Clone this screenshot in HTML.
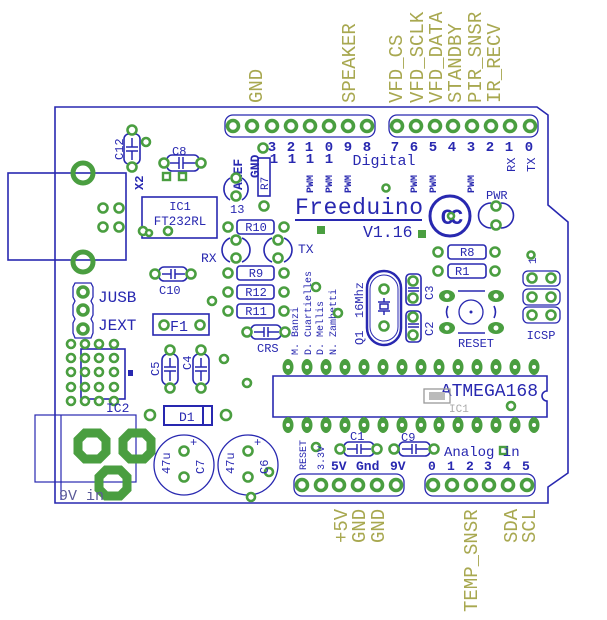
<!DOCTYPE html>
<html><head><meta charset="utf-8"><style>
html,body{margin:0;padding:0;background:#fff;width:607px;height:620px;overflow:hidden}
svg{display:block}
.b{fill:#2828b0;font-family:"Liberation Mono",monospace}
.o{fill:#a8a850;font-family:"Liberation Mono",monospace;font-size:19px}
.bl{stroke:#2828b0;fill:none;stroke-width:1.6}
.p{fill:#fff;stroke:#4a9e40;stroke-width:2.6}
.hp{fill:#fff;stroke:#4a9e40;stroke-width:3.6}
.ho{fill:none;stroke:#2828b0;stroke-width:1.3}
</style></head><body>
<svg width="607" height="620" viewBox="0 0 607 620" xmlns="http://www.w3.org/2000/svg">
<path class="bl" d="M55 107 H537 L548 115 V205 L568 222 V473 L548 487 V503 H55 Z" stroke-width="2"/>

<g class="o">
<text transform="translate(262,103) rotate(-90)">GND</text>
<text transform="translate(355,103) rotate(-90)">SPEAKER</text>
<text transform="translate(402,103) rotate(-90)">VFD_CS</text>
<text transform="translate(423,103) rotate(-90)">VFD_SCLK</text>
<text transform="translate(442,103) rotate(-90)">VFD_DATA</text>
<text transform="translate(461,103) rotate(-90)">STANDBY</text>
<text transform="translate(481,103) rotate(-90)">PIR_SNSR</text>
<text transform="translate(500,103) rotate(-90)">IR_RECV</text>
<text transform="translate(347,543) rotate(-90)">+5V</text>
<text transform="translate(365,543) rotate(-90)">GND</text>
<text transform="translate(384,543) rotate(-90)">GND</text>
<text transform="translate(477,612) rotate(-90)">TEMP_SNSR</text>
<text transform="translate(517,543) rotate(-90)">SDA</text>
<text transform="translate(535,543) rotate(-90)">SCL</text>
</g>

<g>
<rect class="ho" x="225" y="115" width="150" height="22" rx="8"/>
<rect class="ho" x="389" y="115" width="149" height="22" rx="8"/>
<circle class="hp" cx="233" cy="126" r="5.5"/><circle class="hp" cx="252" cy="126" r="5.5"/>
<circle class="hp" cx="272" cy="126" r="5.5"/><circle class="hp" cx="291" cy="126" r="5.5"/>
<circle class="hp" cx="310" cy="126" r="5.5"/><circle class="hp" cx="329" cy="126" r="5.5"/>
<circle class="hp" cx="348" cy="126" r="5.5"/><circle class="hp" cx="367" cy="126" r="5.5"/>
<circle class="hp" cx="397" cy="126" r="5.5"/><circle class="hp" cx="416" cy="126" r="5.5"/>
<circle class="hp" cx="435" cy="126" r="5.5"/><circle class="hp" cx="453" cy="126" r="5.5"/>
<circle class="hp" cx="472" cy="126" r="5.5"/><circle class="hp" cx="491" cy="126" r="5.5"/>
<circle class="hp" cx="510" cy="126" r="5.5"/><circle class="hp" cx="530" cy="126" r="5.5"/>
</g>
<g class="b" font-size="14" font-weight="bold" text-anchor="middle">
<text x="272" y="151">3</text><text x="291" y="151">2</text><text x="309" y="151">1</text><text x="329" y="151">0</text>
<text x="348" y="151">9</text><text x="367" y="151">8</text>
<text x="395" y="151">7</text><text x="414" y="151">6</text><text x="433" y="151">5</text><text x="452" y="151">4</text>
<text x="471" y="151">3</text><text x="490" y="151">2</text><text x="509" y="151">1</text><text x="529" y="151">0</text>
<text x="274" y="163">1</text><text x="292" y="163">1</text><text x="310" y="163">1</text><text x="329" y="163">1</text>
<text x="384" y="165" font-weight="normal" font-size="15">Digital</text>
</g>
<g class="b" font-size="12">
<text transform="translate(515,172) rotate(-90)">RX</text>
<text transform="translate(535,172) rotate(-90)">TX</text>
<text transform="translate(242,190) rotate(-90)" font-weight="bold" font-size="13">AREF</text>
<text transform="translate(259,178) rotate(-90)" font-weight="bold" font-size="13">GND</text>
<g font-size="10" font-weight="bold">
<text transform="translate(313,193) rotate(-90)">PWM</text>
<text transform="translate(332,193) rotate(-90)">PWM</text>
<text transform="translate(351,193) rotate(-90)">PWM</text>
<text transform="translate(417,193) rotate(-90)">PWM</text>
<text transform="translate(436,193) rotate(-90)">PWM</text>
<text transform="translate(474,193) rotate(-90)">PWM</text>
</g>
</g>

<text class="b" x="295" y="214" font-size="23" textLength="128">Freeduino</text>
<line x1="295" y1="220" x2="422" y2="220" stroke="#2828b0" stroke-width="2"/>
<text class="b" x="363" y="237" font-size="16.5">V1.16</text>
<rect x="317" y="226" width="8" height="8" fill="#4a9e40"/><rect x="418" y="230" width="8" height="8" fill="#4a9e40"/>
<circle class="p" cx="386" cy="188" r="3.5"/>
<circle cx="450" cy="216" r="20" fill="none" stroke="#2828b0" stroke-width="3"/>
<text class="b" x="450" y="224" font-size="22" font-weight="bold" text-anchor="middle" letter-spacing="-4">CC</text>
<circle class="p" cx="451" cy="216" r="3"/>

<text class="b" x="486" y="199" font-size="12">PWR</text>
<path class="bl" d="M491 203 A12 12 0 0 0 491 228 M501 203 A12 12 0 0 1 501 228" stroke-width="2.4"/>
<circle class="p" cx="496" cy="206" r="4.5"/><circle class="p" cx="496" cy="225" r="4.5"/>

<rect class="bl" x="8" y="173" width="118" height="87"/>
<circle cx="83" cy="173" r="10" fill="none" stroke="#4a9e40" stroke-width="5"/>
<circle cx="83" cy="262" r="10" fill="none" stroke="#4a9e40" stroke-width="5"/>
<circle class="p" cx="103" cy="208" r="4.5"/><circle class="p" cx="119" cy="208" r="4.5"/>
<circle class="p" cx="103" cy="227" r="4.5"/><circle class="p" cx="119" cy="227" r="4.5"/>

<rect class="bl" x="124" y="134" width="16" height="30" rx="5" stroke-width="1.2"/>
<path d="M126 147 H138 M126 151 H138 M132 138 V147 M132 151 V160" stroke="#2828b0" stroke-width="1.5"/>
<circle class="p" cx="132" cy="130" r="4.5"/><circle class="p" cx="132" cy="167" r="4.5"/><circle class="p" cx="146" cy="142" r="4"/>
<text class="b" transform="translate(123,160) rotate(-90)" font-size="12">C12</text>
<text class="b" transform="translate(143,190) rotate(-90)" font-size="12" font-weight="bold">X2</text>

<rect class="bl" x="167" y="155" width="32" height="16" rx="5" stroke-width="1.2"/>
<path d="M179 157 V169 M183 157 V169 M170 163 H179 M183 163 H196" stroke="#2828b0" stroke-width="1.5"/>
<circle class="p" cx="164" cy="163" r="4.5"/><circle class="p" cx="201" cy="163" r="4.5"/>
<text class="b" x="172" y="155" font-size="12">C8</text>
<rect x="163" y="173" width="7" height="7" fill="#fff" stroke="#4a9e40" stroke-width="2.4"/>
<rect x="179" y="173" width="7" height="7" fill="#fff" stroke="#4a9e40" stroke-width="2.4"/>

<rect class="bl" x="142" y="197" width="75" height="41"/>
<text class="b" x="180" y="210" font-size="12" text-anchor="middle">IC1</text>
<text class="b" x="180" y="225" font-size="12.5" text-anchor="middle">FT232RL</text>
<circle class="p" cx="143" cy="231" r="4"/><circle class="p" cx="149" cy="233" r="3"/><circle class="p" cx="168" cy="231" r="4"/>

<path class="bl" d="M230 178 A13 13 0 0 0 230 200 M242 178 A13 13 0 0 1 242 200" stroke-width="2.4"/>
<circle class="p" cx="236" cy="178" r="4.5"/><circle class="p" cx="236" cy="196" r="4.5"/>
<text class="b" x="230" y="213" font-size="12">13</text>
<rect class="bl" x="258" y="158" width="12" height="38" stroke-width="1.2"/>
<text class="b" transform="translate(268,190) rotate(-90)" font-size="11">R7</text>
<circle class="p" cx="263" cy="148" r="4.5"/><circle class="p" cx="264" cy="206" r="4.5"/>

<g font-size="12">
<rect class="bl" x="237" y="220" width="37" height="14" rx="3" stroke-width="1.2"/><text class="b" x="256" y="231" text-anchor="middle">R10</text>
<circle class="p" cx="228" cy="227" r="4.5"/><circle class="p" cx="284" cy="227" r="4.5"/>
<rect class="bl" x="237" y="266" width="37" height="14" rx="3" stroke-width="1.2"/><text class="b" x="256" y="277" text-anchor="middle">R9</text>
<circle class="p" cx="228" cy="273" r="4.5"/><circle class="p" cx="284" cy="273" r="4.5"/>
<rect class="bl" x="237" y="285" width="37" height="14" rx="3" stroke-width="1.2"/><text class="b" x="256" y="296" text-anchor="middle">R12</text>
<circle class="p" cx="228" cy="292" r="4.5"/><circle class="p" cx="284" cy="292" r="4.5"/>
<rect class="bl" x="237" y="304" width="37" height="14" rx="3" stroke-width="1.2"/><text class="b" x="256" y="315" text-anchor="middle">R11</text>
<circle class="p" cx="228" cy="311" r="4.5"/><circle class="p" cx="284" cy="311" r="4.5"/>
<rect class="bl" x="448" y="245" width="38" height="14" rx="3" stroke-width="1.2"/><text class="b" x="460" y="256">R8</text>
<circle class="p" cx="438" cy="252" r="4.5"/><circle class="p" cx="495" cy="252" r="4.5"/>
<rect class="bl" x="448" y="264" width="38" height="14" rx="3" stroke-width="1.2"/><text class="b" x="455" y="275">R1</text>
<circle class="p" cx="438" cy="271" r="4.5"/><circle class="p" cx="495" cy="271" r="4.5"/>
</g>
<circle class="p" cx="212" cy="301" r="4"/>

<path class="bl" d="M230 238 A13 13 0 0 0 230 262 M242 238 A13 13 0 0 1 242 262" stroke-width="2.4"/>
<circle class="p" cx="236" cy="240" r="4.5"/><circle class="p" cx="236" cy="258" r="4.5"/>
<path class="bl" d="M272 238 A13 13 0 0 0 272 262 M284 238 A13 13 0 0 1 284 262" stroke-width="2.4"/>
<circle class="p" cx="278" cy="240" r="4.5"/><circle class="p" cx="278" cy="258" r="4.5"/>
<text class="b" x="201" y="262" font-size="13">RX</text>
<text class="b" x="298" y="253" font-size="13">TX</text>

<rect class="bl" x="159" y="267" width="28" height="14" rx="5" stroke-width="1.2"/>
<path d="M171 269 V279 M175 269 V279 M162 274 H171 M175 274 H185" stroke="#2828b0" stroke-width="1.5"/>
<circle class="p" cx="155" cy="274" r="4.5"/><circle class="p" cx="191" cy="274" r="4.5"/>
<text class="b" x="159" y="294" font-size="12">C10</text>

<path class="ho" d="M75 283 H91 L93 287 V297 L91 301 L93 305 V315 L91 319 L93 323 V333 L91 338 H75 L73 333 V323 L75 319 L73 315 V305 L75 301 L73 297 V287 Z"/>
<circle class="hp" cx="83" cy="292" r="5"/><circle class="hp" cx="83" cy="310" r="5"/><circle class="hp" cx="83" cy="329" r="5"/>
<text class="b" x="98" y="302" font-size="16">JUSB</text>
<text class="b" x="98" y="330" font-size="16">JEXT</text>

<rect class="bl" x="153" y="314" width="56" height="21" stroke-width="1.2"/>
<circle class="p" cx="164" cy="325" r="4.5"/><circle class="p" cx="200" cy="325" r="4.5"/>
<text class="b" x="170" y="331" font-size="15">F1</text>

<rect class="bl" x="251" y="325" width="30" height="14" rx="5" stroke-width="1.2"/>
<path d="M264 327 V337 M268 327 V337 M254 332 H264 M268 332 H279" stroke="#2828b0" stroke-width="1.5"/>
<circle class="p" cx="247" cy="332" r="4.5"/><circle class="p" cx="285" cy="332" r="4.5"/>
<text class="b" x="257" y="352" font-size="12">CRS</text>

<g class="b" font-size="10">
<text transform="translate(298,355) rotate(-90)">M. Banzi</text>
<text transform="translate(311,355) rotate(-90)">D. Cuartielles</text>
<text transform="translate(323,355) rotate(-90)">D. Mellis</text>
<text transform="translate(336,355) rotate(-90)">N. Zambetti</text>
</g>
<circle class="p" cx="316" cy="287" r="4"/><circle class="p" cx="338" cy="313" r="4"/>

<rect x="367" y="271" width="34" height="74" rx="17" fill="none" stroke="#2828b0" stroke-width="2.5"/>
<rect x="370" y="275" width="28" height="66" rx="14" fill="none" stroke="#2828b0" stroke-width="1"/>
<circle class="p" cx="384" cy="289" r="4.5"/><circle class="p" cx="384" cy="326" r="4.5"/>
<path d="M378 302 H390 M378 311 H390 M380 304 H388 V309 H380 Z M384 298 V302 M384 311 V315" stroke="#2828b0" stroke-width="1.5" fill="none"/>
<text class="b" transform="translate(363,345) rotate(-90)" font-size="12">Q1</text>
<text class="b" transform="translate(363,318) rotate(-90)" font-size="12">16Mhz</text>

<rect class="bl" x="406" y="274" width="15" height="31" rx="4" stroke-width="1.2"/>
<rect class="bl" x="406" y="311" width="15" height="31" rx="4" stroke-width="1.2"/>
<path d="M408 288 H419 M408 291 H419 M408 324 H419 M408 327 H419" stroke="#2828b0" stroke-width="1.5"/>
<circle class="p" cx="413" cy="281" r="4.5"/><circle class="p" cx="413" cy="298" r="4.5"/>
<circle class="p" cx="413" cy="317" r="4.5"/><circle class="p" cx="413" cy="335" r="4.5"/>
<text class="b" transform="translate(433,300) rotate(-90)" font-size="12">C3</text>
<text class="b" transform="translate(433,336) rotate(-90)" font-size="12">C2</text>

<line x1="458" y1="291" x2="485" y2="291" stroke="#2828b0" stroke-width="1.5"/>
<line x1="458" y1="333" x2="485" y2="333" stroke="#2828b0" stroke-width="1.5"/>
<circle cx="471" cy="312" r="12" fill="none" stroke="#2828b0" stroke-width="1.3"/>
<circle cx="471" cy="312" r="1.5" fill="#2828b0"/>
<path class="bl" d="M448 306 Q445 312 448 318 M494 306 Q497 312 494 318" stroke-width="1.2"/>
<ellipse cx="447" cy="296" rx="8" ry="6" fill="#4a9e40"/><circle cx="447" cy="296" r="2.5" fill="#fff"/>
<ellipse cx="496" cy="296" rx="8" ry="6" fill="#4a9e40"/><circle cx="496" cy="296" r="2.5" fill="#fff"/>
<ellipse cx="447" cy="328" rx="8" ry="6" fill="#4a9e40"/><circle cx="447" cy="328" r="2.5" fill="#fff"/>
<ellipse cx="496" cy="328" rx="8" ry="6" fill="#4a9e40"/><circle cx="496" cy="328" r="2.5" fill="#fff"/>
<text class="b" x="476" y="347" font-size="12" text-anchor="middle">RESET</text>

<rect class="ho" x="523" y="271" width="37" height="15" rx="5"/>
<rect class="ho" x="523" y="289" width="37" height="16" rx="5"/>
<rect class="ho" x="523" y="307" width="37" height="16" rx="5"/>
<circle class="p" cx="532" cy="278" r="4.5"/><circle class="p" cx="551" cy="278" r="4.5"/>
<circle class="p" cx="532" cy="297" r="4.5"/><circle class="p" cx="551" cy="297" r="4.5"/>
<circle class="p" cx="532" cy="315" r="4.5"/><circle class="p" cx="551" cy="315" r="4.5"/>
<text class="b" x="541" y="339" font-size="12" text-anchor="middle">ICSP</text>
<text class="b" transform="translate(536,264) rotate(-90)" font-size="11">1</text>
<circle class="p" cx="531" cy="255" r="3.5"/>

<rect class="bl" x="81" y="349" width="44" height="50" stroke-width="1.3"/>
<rect x="128" y="370" width="5" height="6" fill="#2828b0"/>
<g>
<circle class="p" cx="71" cy="344" r="4"/><circle class="p" cx="85" cy="344" r="4"/><circle class="p" cx="99" cy="344" r="4"/><circle class="p" cx="114" cy="344" r="4"/>
<circle class="p" cx="71" cy="358" r="4"/><circle class="p" cx="85" cy="358" r="4"/><circle class="p" cx="99" cy="358" r="4"/><circle class="p" cx="114" cy="358" r="4"/>
<circle class="p" cx="71" cy="372" r="4"/><circle class="p" cx="85" cy="372" r="4"/><circle class="p" cx="99" cy="372" r="4"/><circle class="p" cx="114" cy="372" r="4"/>
<circle class="p" cx="71" cy="387" r="4"/><circle class="p" cx="85" cy="387" r="4"/><circle class="p" cx="99" cy="387" r="4"/><circle class="p" cx="114" cy="387" r="4"/>
<circle class="p" cx="71" cy="401" r="4"/><circle class="p" cx="85" cy="401" r="4"/><circle class="p" cx="99" cy="401" r="4"/><circle class="p" cx="114" cy="401" r="4"/>
</g>
<text class="b" x="106" y="412" font-size="13">IC2</text>

<rect class="bl" x="162" y="354" width="16" height="31" rx="6" stroke-width="1.2"/>
<rect class="bl" x="193" y="354" width="16" height="31" rx="6" stroke-width="1.2"/>
<path d="M164 367 H176 M164 371 H176 M195 367 H207 M195 371 H207 M170 358 V367 M170 371 V381 M201 358 V367 M201 371 V381" stroke="#2828b0" stroke-width="1.5"/>
<circle class="p" cx="170" cy="350" r="4.5"/><circle class="p" cx="170" cy="388" r="4.5"/>
<circle class="p" cx="201" cy="350" r="4.5"/><circle class="p" cx="201" cy="388" r="4.5"/>
<text class="b" transform="translate(159,376) rotate(-90)" font-size="12">C5</text>
<text class="b" transform="translate(191,370) rotate(-90)" font-size="12">C4</text>
<circle class="p" cx="224" cy="359" r="4"/><circle class="p" cx="247" cy="383" r="4"/>

<rect x="164" y="406" width="48" height="19" fill="none" stroke="#2828b0" stroke-width="2"/>
<line x1="203" y1="406" x2="203" y2="425" stroke="#2828b0" stroke-width="2"/>
<circle class="p" cx="150" cy="415" r="5"/><circle class="p" cx="226" cy="415" r="5"/>
<text class="b" x="179" y="421" font-size="13">D1</text>

<rect x="35" y="415" width="101" height="67" fill="none" stroke="#2828b0" stroke-width="1.2"/>
<line x1="61" y1="415" x2="61" y2="500" stroke="#2828b0" stroke-width="1.2"/>
<g fill="none" stroke="#4a9e40" stroke-width="9">
<polygon points="85,433 99,433 106,440 106,452 99,459 85,459 78,452 78,440"/>
<polygon points="130,433 144,433 151,440 151,452 144,459 130,459 123,452 123,440"/>
<polygon points="106,470 120,470 127,477 127,489 120,496 106,496 99,489 99,477"/>
</g>
<text x="59" y="500" font-family="Liberation Mono,monospace" font-size="15" fill="#5a5a98">9V in</text>

<circle cx="184" cy="465" r="30" fill="none" stroke="#2828b0" stroke-width="1.3"/>
<circle cx="248" cy="465" r="30" fill="none" stroke="#2828b0" stroke-width="1.3"/>
<circle class="p" cx="184" cy="451" r="4.5"/><circle class="p" cx="184" cy="477" r="4.5"/>
<circle class="p" cx="248" cy="451" r="4.5"/><circle class="p" cx="248" cy="477" r="4.5"/>
<circle class="p" cx="269" cy="472" r="4"/><circle class="p" cx="251" cy="497" r="4"/>
<g class="b" font-size="12">
<text transform="translate(170,474) rotate(-90)">47u</text>
<text transform="translate(204,474) rotate(-90)">C7</text>
<text x="190" y="446">+</text>
<text transform="translate(234,474) rotate(-90)">47u</text>
<text transform="translate(268,474) rotate(-90)">C6</text>
<text x="254" y="446">+</text>
</g>

<path class="bl" d="M273 376 H547 V391 A5 5 0 0 0 547 401 V417 H273 Z" stroke-width="1.4"/>
<text class="b" x="538" y="396" font-size="18" text-anchor="end">ATMEGA168</text>
<rect x="424" y="389" width="26" height="14" fill="none" stroke="#999" stroke-width="1.3"/>
<rect x="429" y="392" width="16" height="8" fill="#bbb"/>
<text x="449" y="412" font-family="Liberation Mono,monospace" font-size="11" fill="#aaa">IC1</text>
<circle class="p" cx="511" cy="406" r="4"/>
<g fill="#4a9e40">
<ellipse cx="288" cy="367" rx="5.5" ry="8"/><ellipse cx="307" cy="367" rx="5.5" ry="8"/><ellipse cx="326" cy="367" rx="5.5" ry="8"/><ellipse cx="345" cy="367" rx="5.5" ry="8"/>
<ellipse cx="364" cy="367" rx="5.5" ry="8"/><ellipse cx="383" cy="367" rx="5.5" ry="8"/><ellipse cx="402" cy="367" rx="5.5" ry="8"/><ellipse cx="421" cy="367" rx="5.5" ry="8"/>
<ellipse cx="439" cy="367" rx="5.5" ry="8"/><ellipse cx="458" cy="367" rx="5.5" ry="8"/><ellipse cx="477" cy="367" rx="5.5" ry="8"/><ellipse cx="496" cy="367" rx="5.5" ry="8"/>
<ellipse cx="515" cy="367" rx="5.5" ry="8"/><ellipse cx="534" cy="367" rx="5.5" ry="8"/>
<ellipse cx="288" cy="425" rx="5.5" ry="8"/><ellipse cx="307" cy="425" rx="5.5" ry="8"/><ellipse cx="326" cy="425" rx="5.5" ry="8"/><ellipse cx="345" cy="425" rx="5.5" ry="8"/>
<ellipse cx="364" cy="425" rx="5.5" ry="8"/><ellipse cx="383" cy="425" rx="5.5" ry="8"/><ellipse cx="402" cy="425" rx="5.5" ry="8"/><ellipse cx="421" cy="425" rx="5.5" ry="8"/>
<ellipse cx="439" cy="425" rx="5.5" ry="8"/><ellipse cx="458" cy="425" rx="5.5" ry="8"/><ellipse cx="477" cy="425" rx="5.5" ry="8"/><ellipse cx="496" cy="425" rx="5.5" ry="8"/>
<ellipse cx="515" cy="425" rx="5.5" ry="8"/><ellipse cx="534" cy="425" rx="5.5" ry="8"/>
</g>
<g fill="#fff">
<circle cx="288" cy="367" r="2"/><circle cx="307" cy="367" r="2"/><circle cx="326" cy="367" r="2"/><circle cx="345" cy="367" r="2"/>
<circle cx="364" cy="367" r="2"/><circle cx="383" cy="367" r="2"/><circle cx="402" cy="367" r="2"/><circle cx="421" cy="367" r="2"/>
<circle cx="439" cy="367" r="2"/><circle cx="458" cy="367" r="2"/><circle cx="477" cy="367" r="2"/><circle cx="496" cy="367" r="2"/>
<circle cx="515" cy="367" r="2"/><circle cx="534" cy="367" r="2"/>
<circle cx="288" cy="425" r="2"/><circle cx="307" cy="425" r="2"/><circle cx="326" cy="425" r="2"/><circle cx="345" cy="425" r="2"/>
<circle cx="364" cy="425" r="2"/><circle cx="383" cy="425" r="2"/><circle cx="402" cy="425" r="2"/><circle cx="421" cy="425" r="2"/>
<circle cx="439" cy="425" r="2"/><circle cx="458" cy="425" r="2"/><circle cx="477" cy="425" r="2"/><circle cx="496" cy="425" r="2"/>
<circle cx="515" cy="425" r="2"/><circle cx="534" cy="425" r="2"/>
</g>

<rect class="bl" x="344" y="442" width="30" height="14" rx="5" stroke-width="1.2"/>
<path d="M357 444 V454 M361 444 V454 M347 449 H357 M361 449 H371" stroke="#2828b0" stroke-width="1.5"/>
<circle class="p" cx="340" cy="449" r="4.5"/><circle class="p" cx="377" cy="449" r="4.5"/>
<text class="b" x="350" y="440" font-size="12">C1</text>
<rect class="bl" x="399" y="442" width="31" height="14" rx="5" stroke-width="1.2"/>
<path d="M412 444 V454 M416 444 V454 M402 449 H412 M416 449 H428" stroke="#2828b0" stroke-width="1.5"/>
<circle class="p" cx="394" cy="449" r="4.5"/><circle class="p" cx="434" cy="449" r="4.5"/>
<text class="b" x="401" y="441" font-size="12">C9</text>
<circle class="p" cx="316" cy="447" r="4"/>
<rect x="500" y="447" width="7" height="7" fill="#fff" stroke="#4a9e40" stroke-width="2.4"/>

<g class="b" font-size="10">
<text transform="translate(306,470) rotate(-90)">RESET</text>
<text transform="translate(324,470) rotate(-90)">3.3V</text>
</g>
<g class="b" font-size="13" font-weight="bold">
<text x="331" y="470">5V</text><text x="356" y="470">Gnd</text><text x="390" y="470">9V</text>
<text x="428" y="470">0</text><text x="447" y="470">1</text><text x="466" y="470">2</text>
<text x="484" y="470">3</text><text x="503" y="470">4</text><text x="522" y="470">5</text>
</g>
<text class="b" x="444" y="456" font-size="14">Analog in</text>

<rect class="ho" x="294" y="474" width="110" height="22" rx="8"/>
<rect class="ho" x="425" y="474" width="110" height="22" rx="8"/>
<circle class="hp" cx="302" cy="485" r="5.5"/><circle class="hp" cx="321" cy="485" r="5.5"/><circle class="hp" cx="339" cy="485" r="5.5"/>
<circle class="hp" cx="358" cy="485" r="5.5"/><circle class="hp" cx="377" cy="485" r="5.5"/><circle class="hp" cx="396" cy="485" r="5.5"/>
<circle class="hp" cx="433" cy="485" r="5.5"/><circle class="hp" cx="452" cy="485" r="5.5"/><circle class="hp" cx="471" cy="485" r="5.5"/>
<circle class="hp" cx="489" cy="485" r="5.5"/><circle class="hp" cx="508" cy="485" r="5.5"/><circle class="hp" cx="527" cy="485" r="5.5"/>
</svg>
</body></html>
